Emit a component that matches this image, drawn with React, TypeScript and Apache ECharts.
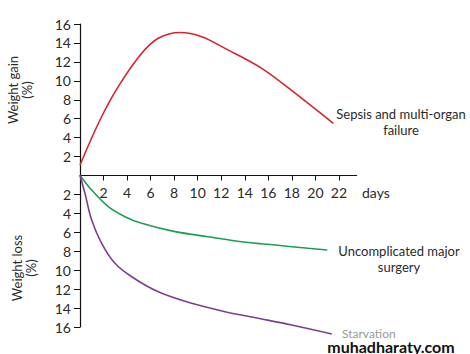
import React, { useEffect, useRef } from "react";
import * as echarts from "echarts";

const sepsisDays = [0, 1.7, 3.25, 5.24, 6.65, 8.5, 10.34, 12.32, 15.44, 18.84, 21.52];
const sepsisGain = [1.1, 5.86, 9.38, 12.9, 14.5, 15.1, 14.66, 13.43, 11.32, 8.15, 5.51];

const surgeryDays = [0, 0.99, 2.4, 3.82, 5.24, 8.07, 10.9, 13.74, 16.57, 19.4, 21.01];
const surgeryLoss = [0, 1.53, 3.29, 4.35, 5.05, 5.93, 6.46, 6.99, 7.34, 7.69, 7.87];

const starvationDays = [0, 0.42, 0.99, 1.84, 2.97, 4.39, 6.65, 9.49, 12.32, 15.15, 17.99, 21.39];
const starvationLoss = [0, 1.88, 4.7, 7.16, 9.27, 10.69, 12.28, 13.5, 14.38, 15.08, 15.79, 16.74];

const dayTicks = [2, 4, 6, 8, 10, 12, 14, 16, 18, 20, 22];
const weightTicks = [-16, -14, -12, -10, -8, -6, -4, -2, 2, 4, 6, 8, 10, 12, 14, 16];

const FONT = "Lato";
const TEXT = "#2a2a2a";

const GRID_TOP = 24;
const GRID_BOTTOM_PX = 327;

export default function App() {
  const ref = useRef<HTMLDivElement>(null);
  useEffect(() => {
    const chart = echarts.init(ref.current!, null, { renderer: "svg" });
    const line = (days: number[], vals: number[], sign: number, color: string, name: string) => ({
      type: "line",
      name,
      data: days.map((d, i) => [d, sign * vals[i]]),
      smooth: 0.35,
      showSymbol: false,
      clip: false,
      lineStyle: { color, width: 1.6 },
    });
    const zeroOffset = -(GRID_BOTTOM_PX - (GRID_TOP + GRID_BOTTOM_PX) / 2);
    chart.setOption({
      animation: false,
      grid: { left: 80, right: 113.4, top: GRID_TOP, bottom: 354 - GRID_BOTTOM_PX },
      xAxis: {
        type: "value",
        position: "bottom",
        offset: zeroOffset,
        min: 0,
        max: 23.5,
        interval: 2,
        splitLine: { show: false },
        axisLine: { onZero: false, lineStyle: { color: "#111", width: 1.2 } },
        axisTick: { show: true, length: 5, customValues: dayTicks, lineStyle: { color: "#111" } },
        axisLabel: {
          customValues: dayTicks,
          margin: 10,
          fontSize: 14,
          color: TEXT,
          fontFamily: FONT,
        },
      },
      yAxis: {
        type: "value",
        min: -16,
        max: 16,
        interval: 2,
        splitLine: { show: false },
        axisLine: { show: true, onZero: false, lineStyle: { color: "#111", width: 1.2 } },
        axisTick: { show: true, length: 6, customValues: weightTicks, lineStyle: { color: "#111" } },
        axisLabel: {
          customValues: weightTicks,
          margin: 9,
          fontSize: 14,
          color: TEXT,
          fontFamily: FONT,
          formatter: (v: number) => String(Math.abs(v)),
        },
      },
      series: [
        line(sepsisDays, sepsisGain, 1, "#d8232f", "Sepsis and multi-organ failure"),
        line(surgeryDays, surgeryLoss, -1, "#1e9e55", "Uncomplicated major surgery"),
        line(starvationDays, starvationLoss, -1, "#7d3f91", "Starvation"),
      ],
      graphic: [
        {
          type: "text",
          x: 20,
          y: 90,
          rotation: Math.PI / 2,
          style: {
            text: "Weight gain\n(%)",
            font: `13px ${FONT}`,
            fill: TEXT,
            align: "center",
            verticalAlign: "middle",
            lineHeight: 14,
          },
        },
        {
          type: "text",
          x: 24,
          y: 268,
          rotation: Math.PI / 2,
          style: {
            text: "Weight loss\n(%)",
            font: `13px ${FONT}`,
            fill: TEXT,
            align: "center",
            verticalAlign: "middle",
            lineHeight: 14,
          },
        },
        {
          type: "text",
          x: 362,
          y: 192,
          style: { text: "days", font: `14px ${FONT}`, fill: TEXT, verticalAlign: "middle" },
        },
        {
          type: "text",
          x: 401,
          y: 122,
          style: {
            text: "Sepsis and multi-organ\nfailure",
            font: `13px ${FONT}`,
            fill: TEXT,
            align: "center",
            verticalAlign: "middle",
            lineHeight: 16,
          },
        },
        {
          type: "text",
          x: 399,
          y: 259,
          style: {
            text: "Uncomplicated major\nsurgery",
            font: `13px ${FONT}`,
            fill: TEXT,
            align: "center",
            verticalAlign: "middle",
            lineHeight: 16,
          },
        },
        {
          type: "text",
          x: 342,
          y: 333,
          style: { text: "Starvation", font: `12px ${FONT}`, fill: "#9a9a9a", verticalAlign: "middle" },
        },
        {
          type: "text",
          x: 391,
          y: 346,
          style: {
            text: "muhadharaty.com",
            font: `bold 16px ${FONT}`,
            fill: "#111",
            align: "center",
            verticalAlign: "middle",
          },
        },
      ],
    });
    return () => chart.dispose();
  }, []);
  return <div ref={ref} style={{ width: 470, height: 354, position: "absolute", left: 0, top: 0 }} />;
}
